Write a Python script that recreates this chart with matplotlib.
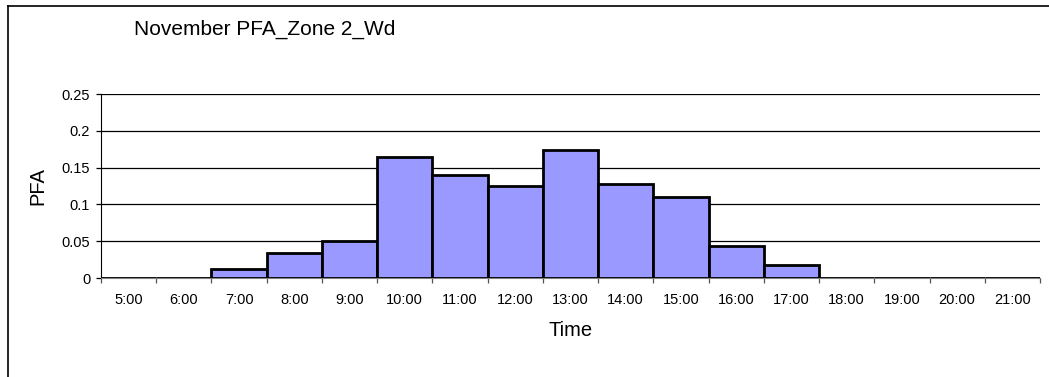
import numpy as np
import matplotlib
matplotlib.use("Agg")
import matplotlib.pyplot as plt
from matplotlib.lines import Line2D

plt.rcParams['font.family'] = ['Liberation Sans', 'DejaVu Sans']

# data
hours = ['5:00', '6:00', '7:00', '8:00', '9:00', '10:00', '11:00', '12:00', '13:00',
         '14:00', '15:00', '16:00', '17:00', '18:00', '19:00', '20:00', '21:00']
pfa = [0, 0, 0.0128, 0.0346, 0.050, 0.165, 0.140, 0.1246, 0.1745,
       0.1277, 0.1096, 0.0432, 0.0177, 0, 0, 0, 0]

W, H = 1049, 377
fig = plt.figure(figsize=(W / 100, H / 100), dpi=100)
ax = fig.add_axes([101 / W, 1 - 278 / H, (1040 - 101) / W, (278 - 94) / H])

x = np.arange(len(hours))
ax.bar(x, pfa, width=1.0, color='#9999FF', edgecolor='black', linewidth=2, zorder=3)

ax.set_xlim(-0.5, len(hours) - 0.5)
ax.set_ylim(0, 0.25)
ax.set_yticks(np.arange(0, 0.26, 0.05))
ax.set_yticklabels(['0', '0.05', '0.1', '0.15', '0.2', '0.25'])
ax.yaxis.grid(True, color='black', linewidth=0.9, zorder=0)
ax.set_axisbelow(True)

# category ticks sit on the boundaries, labels in the middle
ax.set_xticks(x)
ax.set_xticklabels(hours)
ax.set_xticks(np.arange(-0.5, len(hours)), minor=True)
ax.tick_params(axis='x', which='major', length=0, labelsize=10.5, pad=11)
ax.tick_params(axis='x', which='minor', length=3.5, width=0.9, color='#555555')
ax.tick_params(axis='y', length=3.5, width=0.9, labelsize=10.5, pad=4.3)

for s in ['top', 'right']:
    ax.spines[s].set_visible(False)
ax.spines['bottom'].set_color('#808080')
ax.spines['left'].set_color('black')

ax.set_xlabel('Time', fontsize=14.5, labelpad=10)
ax.set_ylabel('PFA', fontsize=14.5, labelpad=10)

fig.text(134 / W, 1 - 29 / H, 'November PFA_Zone 2_Wd', fontsize=15, va='center', ha='left')

# chart area border (only left and top are visible in the crop)
fig.add_artist(Line2D([8 / W, 8 / W], [0, 1 - 6 / H], color='black', linewidth=1.2))
fig.add_artist(Line2D([8 / W, 1], [1 - 6 / H, 1 - 6 / H], color='black', linewidth=1.2))

fig.savefig('out.png', dpi=100)
